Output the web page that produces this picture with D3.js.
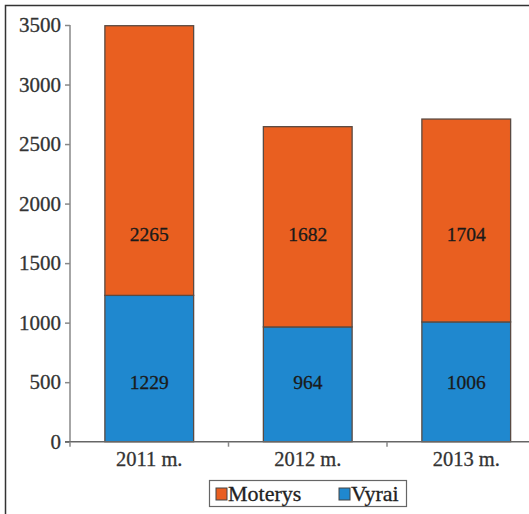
<!DOCTYPE html>
<html>
<head>
<meta charset="utf-8">
<script src="https://cdn.jsdelivr.net/npm/d3@7"></script>
<style>
  html, body { margin: 0; padding: 0; background: #fff; }
  svg { display: block; }
  text { font-family: "Liberation Serif", "Times New Roman", serif; }
</style>
</head>
<body>
<svg id="chart" width="529" height="514"></svg>
<script>
// ---- data ----
const categories = ["2011 m.", "2012 m.", "2013 m."];
const seriesNames = ["Moterys", "Vyrai"];
const vyrai = [1229, 964, 1006];
const moterys = [2265, 1682, 1704];
const yTicks = [0, 500, 1000, 1500, 2000, 2500, 3000, 3500];
const seriesColors = { Vyrai: "#1f88cf", Moterys: "#e95f20" };
// label anchors (data units) where the value labels sit in each stack
const labelLevels = { Vyrai: 500, Moterys: 1740 };

(function () {
const svg = d3.select("#chart");
const W = 529, H = 514;
const mLeft = 70, mRight = 545.5, mTop = 25, mBottom = 441.7;
const serif = "'Liberation Serif', 'Times New Roman', serif";

const x = d3.scaleBand().domain(categories).range([mLeft, mRight])
  .paddingInner(0.44).paddingOuter(0.22);
const y = d3.scaleLinear().domain([0, 3500]).range([mBottom, mTop]);

// outer frame (top + left)
svg.append("path")
  .attr("d", d3.line()([[5.5, H], [5.5, 5.5], [W, 5.5]]))
  .attr("fill", "none").attr("stroke", "#333").attr("stroke-width", 1.5);

// stacked data
const rows = categories.map((c, i) => ({ cat: c, Vyrai: vyrai[i], Moterys: moterys[i] }));
const stack = d3.stack().keys(["Vyrai", "Moterys"])(rows);

const g = svg.append("g");
stack.forEach(layer => {
  g.selectAll(null).data(layer).enter().append("rect")
    .attr("x", d => x(d.data.cat))
    .attr("width", x.bandwidth())
    .attr("y", d => y(d[1]))
    .attr("height", d => y(d[0]) - y(d[1]))
    .attr("fill", seriesColors[layer.key])
    .attr("stroke", "#5a4a42")
    .attr("stroke-width", 1.3);
});

// value labels
stack.forEach(layer => {
  g.selectAll(null).data(layer).enter().append("text")
    .attr("x", d => x(d.data.cat) + x.bandwidth() / 2)
    .attr("y", y(labelLevels[layer.key]))
    .attr("dy", "0.35em")
    .attr("text-anchor", "middle")
    .attr("font-size", 19.5)
    .attr("fill", "#1a1a1a")
    .attr("stroke", "#1a1a1a").attr("stroke-width", 0.3)
    .text(d => d.data[layer.key]);
});

// y axis
const yAxis = svg.append("g").attr("transform", `translate(${mLeft},0)`)
  .call(d3.axisLeft(y).tickValues(yTicks).tickSize(5).tickPadding(4).tickFormat(d3.format("d")));
yAxis.select(".domain").attr("stroke", "#888").attr("stroke-width", 1.5)
  .attr("d", `M0,${y(3500)}V${mBottom}`);
yAxis.selectAll(".tick line").attr("stroke", "#888").attr("stroke-width", 1.5);
yAxis.selectAll(".tick text").attr("font-size", 21).attr("fill", "#333")
  .attr("stroke", "#333").attr("stroke-width", 0.3)
  .attr("font-family", serif);

// x axis
const xAxis = svg.append("g").attr("transform", `translate(0,${mBottom})`)
  .call(d3.axisBottom(x).tickSize(0).tickPadding(10));
xAxis.select(".domain").attr("stroke", "#666").attr("stroke-width", 1.5)
  .attr("d", `M${mLeft - 5},0H${W + 20}`);
xAxis.selectAll(".tick text").attr("font-size", 20.5).attr("fill", "#333")
  .attr("stroke", "#333").attr("stroke-width", 0.3)
  .attr("font-family", serif);
// category boundary ticks
const step = x.step();
const bounds = [mLeft].concat(categories.map(c => x(c) + x.bandwidth() + x.paddingInner() * step / 2));
xAxis.selectAll(".bnd").data(bounds).enter().append("line")
  .attr("x1", d => d).attr("x2", d => d).attr("y1", 0).attr("y2", 5)
  .attr("stroke", "#888").attr("stroke-width", 1.5);

// legend
const lg = svg.append("g");
const lx = 209.5, ly = 480.5, lw = 197, lh = 26;
lg.append("rect").attr("x", lx).attr("y", ly).attr("width", lw).attr("height", lh)
  .attr("fill", "#fff").attr("stroke", "#666").attr("stroke-width", 1.2);
const legendItems = [
  { name: seriesNames[0], xs: 216 },
  { name: seriesNames[1], xs: 339 }
];
legendItems.forEach(it => {
  lg.append("rect").attr("x", it.xs).attr("y", 488).attr("width", 11).attr("height", 12)
    .attr("fill", seriesColors[it.name]).attr("stroke", "#444").attr("stroke-width", 1);
  lg.append("text").attr("x", it.xs + 12).attr("y", 500.5)
    .attr("font-size", 22).attr("fill", "#222")
    .attr("stroke", "#222").attr("stroke-width", 0.3)
    .text(it.name);
});
})();
</script>
</body>
</html>
